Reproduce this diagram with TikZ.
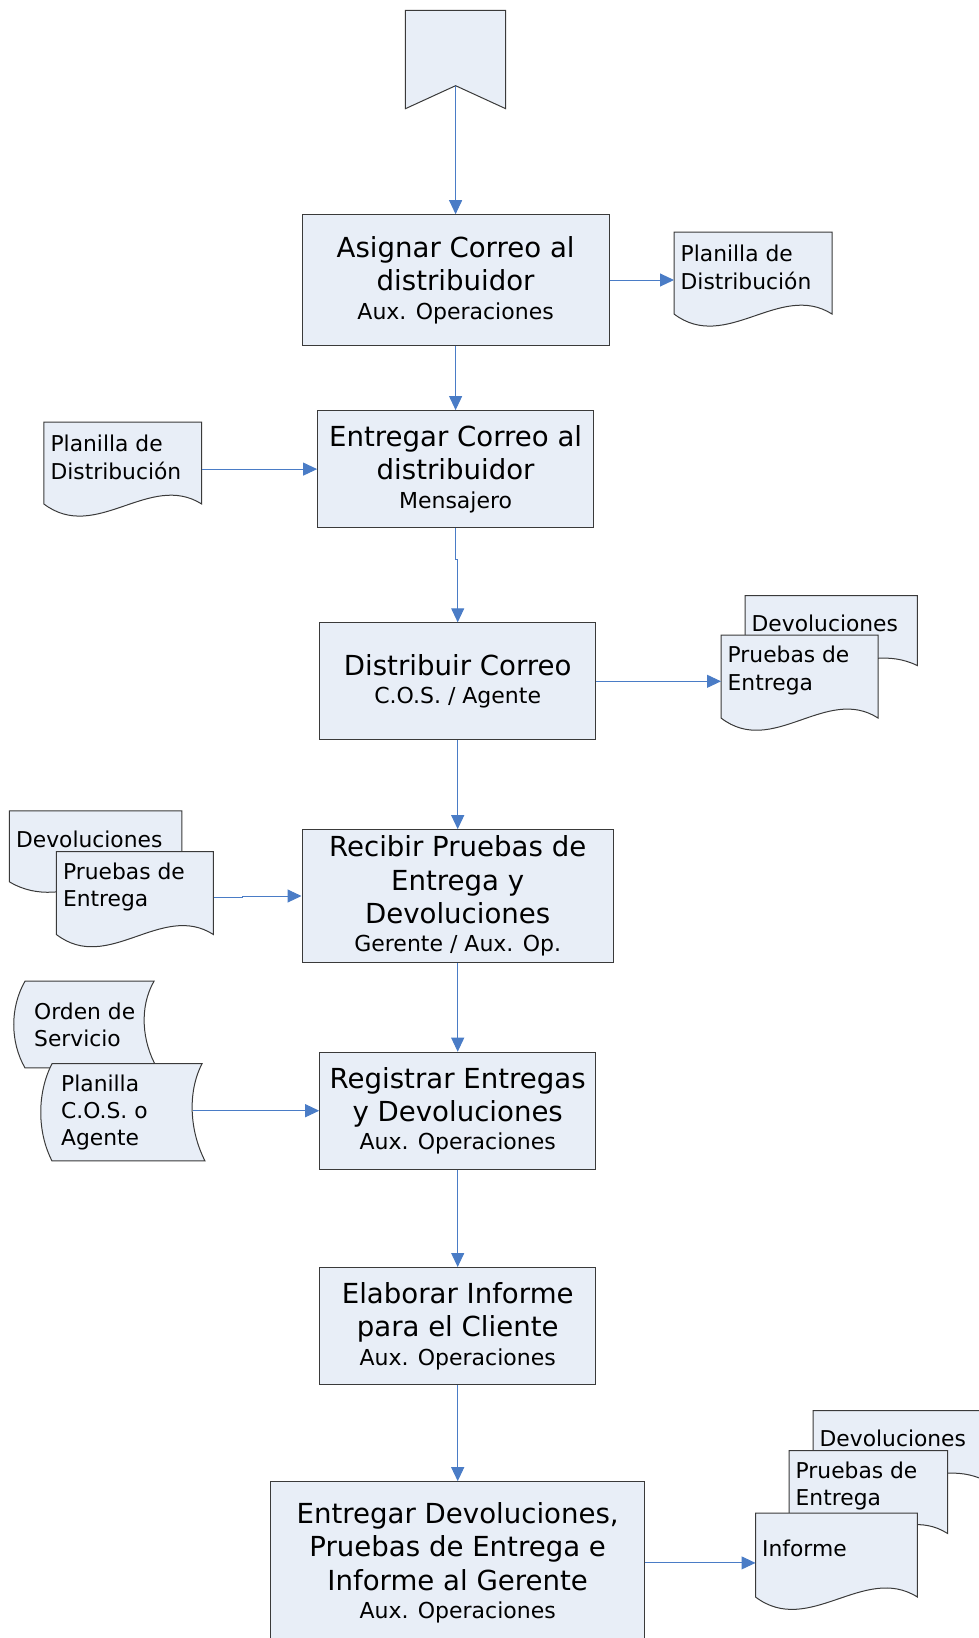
\documentclass[tikz,border=0pt]{standalone}
\usepackage{fontspec}
\setmainfont{DejaVu Sans}
\usetikzlibrary{arrows.meta,calc}

\definecolor{shapefill}{HTML}{E8EEF7}
\definecolor{boxline}{HTML}{3A3A3A}
\definecolor{flowblue}{HTML}{4A7CC6}

\newcommand{\mainsz}{\fontsize{27.6}{33.4}\selectfont}
\newcommand{\subsz}{\fontsize{22}{27}\selectfont}
\newcommand{\docsz}{\fontsize{21.8}{27.2}\selectfont}

\tikzset{
  procbox/.style={draw=boxline, fill=shapefill, line width=1pt, rectangle,
    inner sep=0pt, align=center, font=\mainsz},
  shapeline/.style={draw=boxline, fill=shapefill, line width=1pt, line join=miter},
  doctext/.style={anchor=west, align=left, font=\docsz, inner sep=0pt},
  flow/.style={draw=flowblue, line width=1pt,
    -{Triangle[length=14pt,width=13pt,fill=flowblue]}},
}

% document symbol: name, left, top, width, height, text, text offset from top
\newcommand{\flowdoc}[7]{%
  \path[shapeline] (#2,#3) -- ++(#4,0) -- ++(0,#5)
    .. controls +(-0.33*#4,-0.40*#5) and +(0.33*#4,0.48*#5) .. (#2,#3+#5) -- cycle;
  \node[inner sep=0pt, minimum width=#4pt, minimum height=#5pt, anchor=north west]
    (#1) at (#2,#3) {};
  \node[doctext] at (#2+6.5,#3+#7) {#6};
}

% stored-data symbol: name, left, right, top, bottom, text
\newcommand{\flowstore}[6]{%
  \path[shapeline] (#2,#4) -- (#3,#4)
    .. controls +(-15,0.3*#5-0.3*#4) and +(-15,-0.3*#5+0.3*#4) .. (#3+3,#5)
    -- (#2,#5)
    .. controls +(-15,-0.3*#5+0.3*#4) and +(-15,0.3*#5-0.3*#4) .. (#2,#4) -- cycle;
  \coordinate (#1) at (#3-9,{0.5*(#4+#5)});
  \node[doctext] at (#2+9,{0.5*(#4+#5)}) {#6};
}

\begin{document}
\begin{tikzpicture}[x=1pt,y=-1pt]
\useasboundingbox (0,0) rectangle (978,1638);

% start banner
\path[shapeline] (405.4,10.4) -- (505.7,10.4) -- (505.7,108.7)
  -- (455.6,85.7) -- (405.4,108.7) -- cycle;
\coordinate (startnotch) at (455.6,85.7);

% process steps
\node[procbox, minimum width=307pt, minimum height=130.6pt] (box1) at (455.6,280)
  {Asignar Correo al\\distribuidor\\[-5pt]{\subsz Aux. Operaciones}};
\node[procbox, minimum width=276pt, minimum height=117pt] (box2) at (455.6,469.1)
  {Entregar Correo al\\distribuidor\\[-5pt]{\subsz Mensajero}};
\node[procbox, minimum width=276pt, minimum height=117pt] (box3) at (457.7,681.3)
  {Distribuir Correo\\[-5pt]{\subsz C.O.S. / Agente}};
\node[procbox, minimum width=311.4pt, minimum height=132.7pt] (box4) at (457.7,896)
  {Recibir Pruebas de\\Entrega y\\Devoluciones\\[-5pt]{\subsz Gerente / Aux. Op.}};
\node[procbox, minimum width=276pt, minimum height=117pt] (box5) at (457.7,1110.7)
  {Registrar Entregas\\y Devoluciones\\[-5pt]{\subsz Aux. Operaciones}};
\node[procbox, minimum width=276pt, minimum height=117pt] (box6) at (457.7,1326)
  {Elaborar Informe\\para el Cliente\\[-5pt]{\subsz Aux. Operaciones}};
\node[procbox, minimum width=374pt, minimum height=162.5pt] (box7) at (457.7,1562.9)
  {Entregar Devoluciones,\\Pruebas de Entrega e\\Informe al Gerente\\[-5pt]{\subsz Aux. Operaciones}};

% documents
\flowdoc{doc1}{674}{232}{158}{82}{Planilla de\\Distribución}{35.4}
\flowdoc{doc2}{43.9}{422}{157.8}{82}{Planilla de\\Distribución}{35.4}
\flowdoc{doc3b}{745}{595.6}{172.4}{70}{Devoluciones}{27.4}
\flowdoc{doc3f}{721}{635}{157}{83}{Pruebas de\\Entrega}{35.4}
\flowdoc{doc4b}{9.4}{810.8}{172.4}{71}{Devoluciones}{28.6}
\flowdoc{doc4f}{56.4}{851.5}{157}{83}{Pruebas de\\Entrega}{35.4}
\flowdoc{doc7b}{813}{1410.6}{172.4}{70}{Devoluciones}{28}
\flowdoc{doc7m}{789}{1450.5}{158.7}{83}{Pruebas de\\Entrega}{35.4}
\flowdoc{doc7f}{755.5}{1513}{161.9}{84}{Informe}{35.5}

% stored data
\flowstore{orden}{25}{154}{981.2}{1067.9}{Orden de\\Servicio}
\flowstore{planilla}{52}{202}{1063.7}{1160.9}{Planilla\\C.O.S. o\\Agente}

% connectors
\draw[flow] (startnotch) -- (box1.north);
\draw[flow] (box1.south) -- (box2.north);
\draw[flow] (box1.east) -- (box1.east -| doc1.west);
\draw[flow] (box2.west -| doc2.east) -- (box2.west);
\draw[flow] (box2.south) -- ++(0,31) -| (box3.north);
\draw[flow] (box3.east) -- (box3.east -| doc3f.west);
\draw[flow] (box3.south) -- (box4.north);
\draw[flow] ($(box4.west -| doc4f.east)+(0,1.5)$) -- ++(29,0) |- (box4.west);
\draw[flow] (box4.south) -- (box5.north);
\draw[flow] (box5.west -| planilla) -- (box5.west);
\draw[flow] (box5.south) -- (box6.north);
\draw[flow] (box6.south) -- (box7.north);
\draw[flow] (box7.east) -- (box7.east -| doc7f.west);
\end{tikzpicture}
\end{document}
